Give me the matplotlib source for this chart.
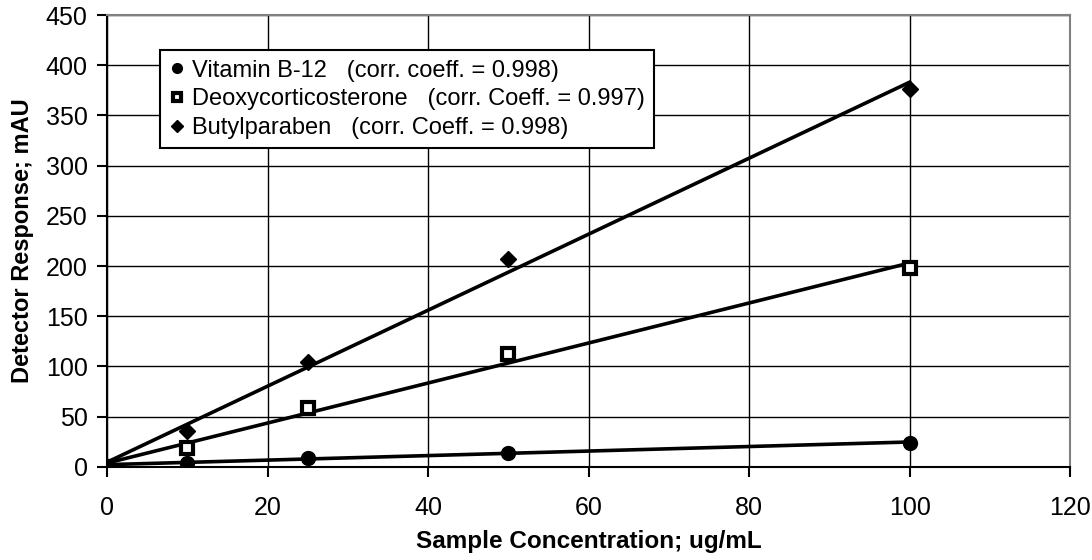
import numpy as np
import matplotlib
matplotlib.use("Agg")
import matplotlib.pyplot as plt

plt.rcParams['font.family'] = ['Liberation Sans', 'DejaVu Sans']

conc = [0, 10, 25, 50, 100]
vitamin_b12 = [1, 4, 9, 14, 24]
deoxycorticosterone = [0, 19, 58, 112, 198]
butylparaben = [0, 36, 104, 207, 376]
labels = ["Vitamin B-12   (corr. coeff. = 0.998)",
          "Deoxycorticosterone   (corr. Coeff. = 0.997)",
          "Butylparaben   (corr. Coeff. = 0.998)"]
xticks = [0, 20, 40, 60, 80, 100, 120]
yticks = [0, 50, 100, 150, 200, 250, 300, 350, 400, 450]

fig = plt.figure(figsize=(10.92, 5.6), dpi=100)
ax = fig.add_axes([0.098, 0.1666, 0.882, 0.8064])

series = [
    (vitamin_b12, dict(marker='o', markersize=10, markerfacecolor='black', markeredgecolor='black')),
    (deoxycorticosterone, dict(marker='s', markersize=8.5, markerfacecolor='white', markeredgecolor='black', markeredgewidth=3.0)),
    (butylparaben, dict(marker='D', markersize=8.5, markerfacecolor='black', markeredgecolor='black')),
]
x = np.array(conc, dtype=float)
for (vals, style), lab in zip(series, labels):
    y = np.array(vals, dtype=float)
    m, b = np.polyfit(x, y, 1)
    xs = np.array([0, 100.0])
    ax.plot(xs, m * xs + b, color='black', lw=2.6, zorder=3)
    ax.plot(x, y, linestyle='none', label=lab, zorder=4, **style)

ax.set_xlim(0, 120)
ax.set_ylim(0, 450)
ax.set_xticks(xticks)
ax.set_yticks(yticks)
ax.grid(True, color='black', linewidth=1.0)
ax.set_axisbelow(True)
for s in ['top', 'right']:
    ax.spines[s].set_color('#808080')
    ax.spines[s].set_linewidth(1.5)
for s in ['left', 'bottom']:
    ax.spines[s].set_color('black')
    ax.spines[s].set_linewidth(1.5)
ax.tick_params(axis='both', direction='out', length=7, width=1.5, labelsize=18, color='black')
ax.tick_params(axis='x', pad=14)
ax.tick_params(axis='y', pad=7)
ax.set_xlabel("Sample Concentration; ug/mL", fontsize=17.5, fontweight='bold', labelpad=7)
ax.set_ylabel("Detector Response; mAU", fontsize=17, fontweight='bold', labelpad=8)

leg = ax.legend(loc='upper left', bbox_to_anchor=(0.055, 0.9225), fontsize=17,
                frameon=True, fancybox=False, framealpha=1, edgecolor='black',
                handlelength=0.6, handletextpad=0.35, labelspacing=0.28,
                borderpad=0.4, borderaxespad=0, markerscale=0.7)
leg.get_frame().set_linewidth(1.5)

fig.savefig('out.png', dpi=100)
